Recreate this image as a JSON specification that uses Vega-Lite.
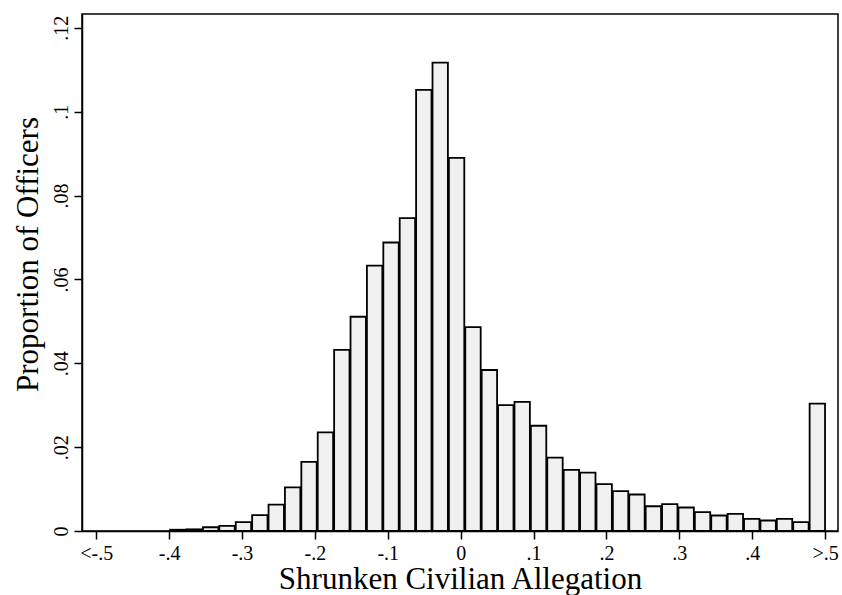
{
  "$schema": "https://vega.github.io/schema/vega-lite/v6.json",
  "width": 756,
  "height": 517,
  "autosize": "none",
  "padding": {"left": 82, "top": 14, "right": 4, "bottom": 64},
  "background": "white",
  "config": {
    "font": "Liberation Serif",
    "view": {"stroke": "black", "strokeWidth": 1.5},
    "axis": {
      "domainColor": "black", "domainWidth": 1.5,
      "tickColor": "black", "tickWidth": 1.5, "tickSize": 8,
      "labelFont": "Liberation Serif", "labelFontSize": 20, "labelColor": "black",
      "titleFont": "Liberation Serif", "titleFontSize": 31, "titleFontWeight": "normal", "titleColor": "black",
      "grid": false, "labelFlush": false, "labelOverlap": false
    }
  },
  "data": {"values": [
    {"bin_start": -0.4, "bin_end": -0.3775, "prop": 0.0003},
    {"bin_start": -0.3775, "bin_end": -0.355, "prop": 0.0004},
    {"bin_start": -0.355, "bin_end": -0.3325, "prop": 0.0009},
    {"bin_start": -0.3325, "bin_end": -0.31, "prop": 0.0012},
    {"bin_start": -0.31, "bin_end": -0.2875, "prop": 0.0021},
    {"bin_start": -0.2875, "bin_end": -0.265, "prop": 0.0038},
    {"bin_start": -0.265, "bin_end": -0.2425, "prop": 0.0063},
    {"bin_start": -0.2425, "bin_end": -0.22, "prop": 0.0104},
    {"bin_start": -0.22, "bin_end": -0.1975, "prop": 0.0165},
    {"bin_start": -0.1975, "bin_end": -0.175, "prop": 0.0235},
    {"bin_start": -0.175, "bin_end": -0.1525, "prop": 0.0432},
    {"bin_start": -0.1525, "bin_end": -0.13, "prop": 0.0511},
    {"bin_start": -0.13, "bin_end": -0.1075, "prop": 0.0633},
    {"bin_start": -0.1075, "bin_end": -0.085, "prop": 0.0688},
    {"bin_start": -0.085, "bin_end": -0.0625, "prop": 0.0746},
    {"bin_start": -0.0625, "bin_end": -0.04, "prop": 0.1052},
    {"bin_start": -0.04, "bin_end": -0.0175, "prop": 0.1117},
    {"bin_start": -0.0175, "bin_end": 0.005, "prop": 0.0890},
    {"bin_start": 0.005, "bin_end": 0.0275, "prop": 0.0486},
    {"bin_start": 0.0275, "bin_end": 0.05, "prop": 0.0384},
    {"bin_start": 0.05, "bin_end": 0.0725, "prop": 0.0300},
    {"bin_start": 0.0725, "bin_end": 0.095, "prop": 0.0308},
    {"bin_start": 0.095, "bin_end": 0.1175, "prop": 0.0251},
    {"bin_start": 0.1175, "bin_end": 0.14, "prop": 0.0175},
    {"bin_start": 0.14, "bin_end": 0.1625, "prop": 0.0146},
    {"bin_start": 0.1625, "bin_end": 0.185, "prop": 0.0139},
    {"bin_start": 0.185, "bin_end": 0.2075, "prop": 0.0112},
    {"bin_start": 0.2075, "bin_end": 0.23, "prop": 0.0095},
    {"bin_start": 0.23, "bin_end": 0.2525, "prop": 0.0087},
    {"bin_start": 0.2525, "bin_end": 0.275, "prop": 0.0059},
    {"bin_start": 0.275, "bin_end": 0.2975, "prop": 0.0064},
    {"bin_start": 0.2975, "bin_end": 0.32, "prop": 0.0056},
    {"bin_start": 0.32, "bin_end": 0.3425, "prop": 0.0045},
    {"bin_start": 0.3425, "bin_end": 0.365, "prop": 0.0037},
    {"bin_start": 0.365, "bin_end": 0.3875, "prop": 0.0041},
    {"bin_start": 0.3875, "bin_end": 0.41, "prop": 0.0029},
    {"bin_start": 0.41, "bin_end": 0.4325, "prop": 0.0025},
    {"bin_start": 0.4325, "bin_end": 0.455, "prop": 0.0029},
    {"bin_start": 0.455, "bin_end": 0.4775, "prop": 0.0021},
    {"bin_start": 0.4775, "bin_end": 0.5, "prop": 0.0304}
  ]},
  "mark": {"type": "bar", "fill": "#f0f0f0", "stroke": "black", "strokeWidth": 1.8, "binSpacing": 1},
  "encoding": {
    "x": {
      "field": "bin_start", "type": "quantitative", "bin": {"binned": true, "step": 0.0225},
      "scale": {"domain": [-0.5196, 0.5178], "nice": false, "zero": false},
      "axis": {
        "title": "Shrunken Civilian Allegation",
        "values": [-0.5, -0.4, -0.3, -0.2, -0.1, 0, 0.1, 0.2, 0.3, 0.4, 0.5],
        "labelExpr": "datum.value <= -0.5 ? '<-.5' : (datum.value >= 0.5 ? '>.5' : replace(replace(format(datum.value, '.1~f'), '\u2212', '-'), '0.', '.'))",
        "labelFont": "Liberation Serif", "labelFontSize": 20,
        "labelPadding": 20, "labelBaseline": "alphabetic", "labelAlign": "center",
        "titleBaseline": "alphabetic", "titleY": 57, "titleAnchor": "middle"
      }
    },
    "x2": {"field": "bin_end"},
    "y": {
      "field": "prop", "type": "quantitative",
      "scale": {"domain": [0, 0.1233], "nice": false, "zero": true},
      "axis": {
        "title": "Proportion of Officers",
        "values": [0, 0.02, 0.04, 0.06, 0.08, 0.1, 0.12],
        "labelExpr": "replace(format(datum.value, '.2~f'), '0.', '.')",
        "labelFont": "Liberation Serif", "labelFontSize": 20,
        "labelAngle": 270, "labelAlign": "center", "labelBaseline": "alphabetic", "labelPadding": 7,
        "titleAngle": 270, "titleAlign": "center", "titleBaseline": "alphabetic",
        "titleX": -45, "titleY": 240
      }
    }
  }
}
